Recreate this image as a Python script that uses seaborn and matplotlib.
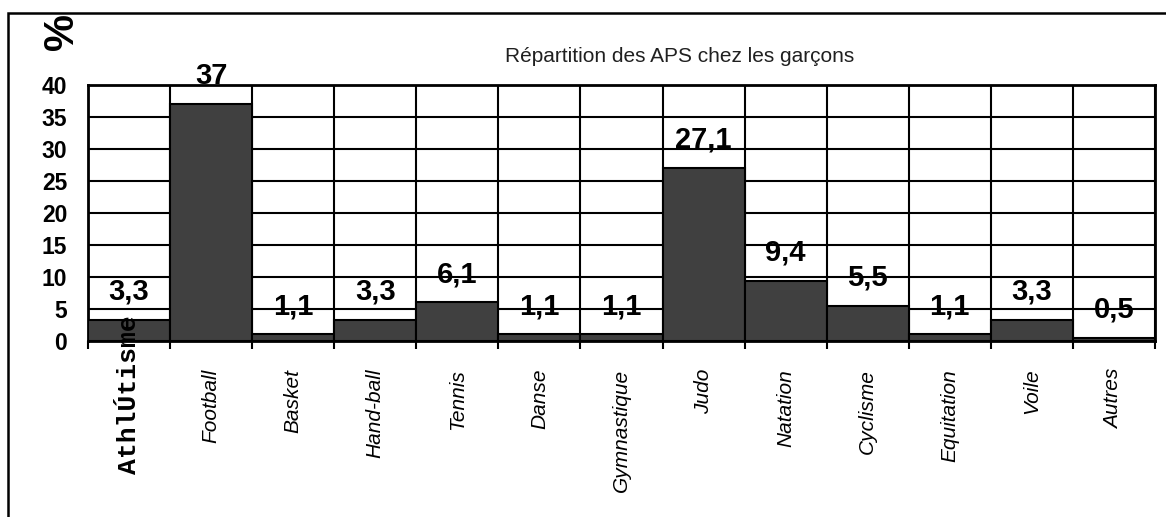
import matplotlib
matplotlib.use('Agg')
import matplotlib.pyplot as plt
import matplotlib.patches as patches
import seaborn as sns
import pandas as pd

# data
sports = ['Athlétisme', 'Football', 'Basket', 'Hand-ball', 'Tennis', 'Danse', 'Gymnastique',
          'Judo', 'Natation', 'Cyclisme', 'Equitation', 'Voile', 'Autres']
pct = [3.3, 37, 1.1, 3.3, 6.1, 1.1, 1.1, 27.1, 9.4, 5.5, 1.1, 3.3, 0.5]
val_labels = ['3,3', '37', '1,1', '3,3', '6,1', '1,1', '1,1', '27,1', '9,4', '5,5', '1,1', '3,3', '0,5']
first_label = 'AthlÚtisme'
yticks = [0, 5, 10, 15, 20, 25, 30, 35, 40]

df = pd.DataFrame({'sport': sports, 'pct': pct})

sns.set_theme(style='white')
plt.rcParams['font.family'] = ['Liberation Sans', 'DejaVu Sans']
plt.rcParams['text.color'] = 'black'
plt.rcParams['xtick.color'] = 'black'
plt.rcParams['ytick.color'] = 'black'

fig = plt.figure(figsize=(11.66, 5.17), dpi=100)
ax = fig.add_axes([88 / 1166, 176 / 517, 1067 / 1166, 256 / 517])

sns.barplot(data=df, x='sport', y='pct', color='#404040', width=1.0,
            edgecolor='black', linewidth=1.5, saturation=1, ax=ax, zorder=3)

ax.set_ylim(0, 40)
ax.set_xlim(-0.5, len(sports) - 0.5)
ax.set_yticks(yticks)
ax.set_yticklabels([str(t) for t in yticks], fontsize=16.5, fontweight='bold')
ax.tick_params(axis='y', length=0, pad=15)

# category labels at centers, tick marks at boundaries
ax.set_xticks(range(len(sports)))
ax.set_xticklabels([''] + sports[1:], rotation=90, fontstyle='italic',
                   fontsize=15, va='top', ha='center')
ax.tick_params(axis='x', which='major', length=0, pad=20)
ax.set_xticks([i - 0.5 for i in range(len(sports) + 1)], minor=True)
ax.tick_params(axis='x', which='minor', length=6, width=1.5, direction='out', color='black')
ax.xaxis.set_tick_params(which='minor', bottom=True)

ax.grid(True, axis='y', which='major', color='black', lw=1.5, zorder=0)
ax.grid(True, axis='x', which='minor', color='black', lw=1.5, zorder=0)
ax.grid(False, axis='x', which='major')
ax.set_axisbelow(True)

for s in ax.spines.values():
    s.set_color('black')
    s.set_linewidth(2)
    s.set_visible(True)

ax.set_xlabel('')
ax.set_ylabel('')

# value labels
for i, (v, lab) in enumerate(zip(pct, val_labels)):
    ax.annotate(lab, (i, v), xytext=(0, 10), textcoords='offset points',
                ha='center', va='bottom', fontsize=21, fontweight='bold', zorder=5)

# first label in monospace
ax.text(0, -0.211, first_label, transform=ax.get_xaxis_transform(),
        rotation=90, ha='center', va='center', fontsize=19, fontweight='bold',
        fontfamily=['Liberation Mono', 'DejaVu Sans Mono'], zorder=6, clip_on=False)

fig.text(680 / 1166, 1 - 56 / 517, 'Répartition des APS chez les garçons',
         ha='center', va='center', fontsize=15, color='#202020')
fig.text(62 / 1166, 1 - 31 / 517, '%', rotation=90, ha='center', va='center',
         fontsize=30, fontweight='bold')

# figure frame (only top and left visible)
fig.patches.append(patches.Rectangle((8 / 1166, -0.2), 1.2, 0.2 + 1 - 13 / 517,
                                     transform=fig.transFigure, fill=False,
                                     edgecolor='black', lw=1.8))

fig.savefig('out.png', dpi=100)
